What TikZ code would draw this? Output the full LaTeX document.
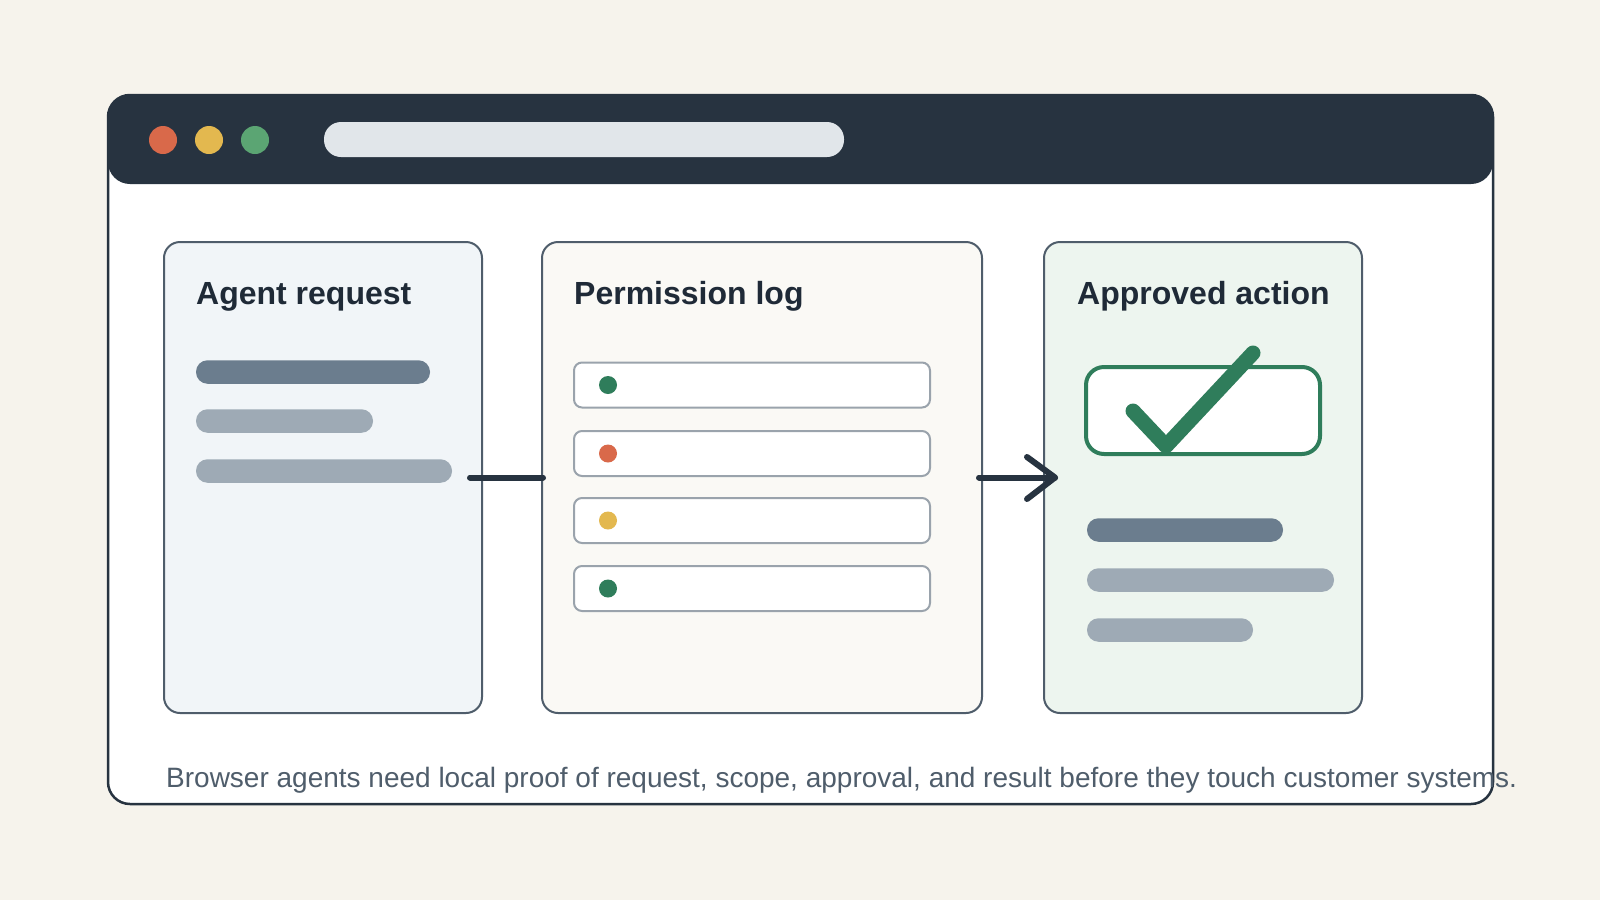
\documentclass[tikz,border=0pt]{standalone}
\usepackage{fontspec}
\setmainfont{Liberation Sans}
\usetikzlibrary{calc}
\definecolor{bg}{HTML}{F6F3EC}
\definecolor{ink}{HTML}{273340}
\definecolor{titleink}{HTML}{1F2A37}
\definecolor{panelline}{HTML}{4F5D6B}
\definecolor{capink}{HTML}{4F5D6B}
\definecolor{addr}{HTML}{E1E6EA}
\definecolor{dotred}{HTML}{D9694A}
\definecolor{dotyellow}{HTML}{E3B84F}
\definecolor{dotgreen}{HTML}{5BA573}
\definecolor{okgreen}{HTML}{2F7D5B}
\definecolor{barDark}{HTML}{6B7D8E}
\definecolor{barLight}{HTML}{9EAAB5}
\definecolor{rowline}{HTML}{9AA3AC}
\definecolor{fillA}{HTML}{F1F5F8}
\definecolor{fillB}{HTML}{FAF9F5}
\definecolor{fillC}{HTML}{EDF5EF}
\begin{document}
\begin{tikzpicture}[x=1pt,y=-1pt,
  panelbox/.style={draw=panelline, line width=2pt, rounded corners=16pt, inner sep=0pt, minimum height=471pt, minimum width=318pt},
  bardark/.style={fill=barDark, rounded corners=11.5pt, inner sep=0pt, minimum height=23.5pt},
  barlight/.style={fill=barLight, rounded corners=11.5pt, inner sep=0pt, minimum height=23.5pt},
  logrow/.style={draw=rowline, fill=white, line width=2pt, rounded corners=8pt, inner sep=0pt, minimum width=356pt, minimum height=45pt},
  logdot/.style={circle, inner sep=0pt, minimum size=18pt},
  titletext/.style={anchor=base west, inner sep=0pt, text=titleink, font=\fontsize{32}{38}\selectfont\bfseries},
  link/.style={draw=ink, line width=6pt, line cap=round, line join=round}
]
\useasboundingbox (0,0) rectangle (1600,900);
\fill[bg] (0,0) rectangle (1600,900);

% window
\node[fill=white, rounded corners=22pt, inner sep=0pt, minimum width=1385pt, minimum height=709pt] (win) at (800.5,449.5) {};
\node[fill=ink, rounded corners=22pt, inner sep=0pt, minimum width=1385pt, minimum height=89pt] (header) at (800.5,139.5) {};
\draw[ink, line width=2.5pt, rounded corners=22pt] (108,95) rectangle (1493,804);

% header dots and address bar
\node[logdot, fill=dotred, minimum size=28pt] (d1) at (163,140) {};
\node[logdot, fill=dotyellow, minimum size=28pt] (d2) at (209,140) {};
\node[logdot, fill=dotgreen, minimum size=28pt] (d3) at (255,140) {};
\node[fill=addr, rounded corners=17pt, inner sep=0pt, minimum width=520pt, minimum height=35pt] (addrbar) at (584,139.5) {};

% panels
\node[panelbox, fill=fillA] (p1) at (323,477.5) {};
\node[panelbox, fill=fillB, minimum width=440pt] (p2) at (762,477.5) {};
\node[panelbox, fill=fillC] (p3) at (1203,477.5) {};

% titles
\node[titletext] (t1) at (196,304) {Agent request};
\node[titletext] (t2) at (574,304) {Permission log};
\node[titletext] (t3) at (1077,304) {Approved action};

% panel 1 bars
\node[bardark, minimum width=234pt] (a1) at (313,372) {};
\node[barlight, minimum width=177pt] (a2) at (284.5,421) {};
\node[barlight, minimum width=256pt] (a3) at (324,471) {};

% log rows
\node[logrow] (r1) at (752,385) {};
\node[logrow] (r2) at (752,453.5) {};
\node[logrow] (r3) at (752,520.5) {};
\node[logrow] (r4) at (752,588.5) {};
\node[logdot, fill=okgreen] (g1) at (608,385) {};
\node[logdot, fill=dotred] (g2) at (608,453.5) {};
\node[logdot, fill=dotyellow] (g3) at (608,520.5) {};
\node[logdot, fill=okgreen] (g4) at (608,588.5) {};

% approved checkbox and check
\node[draw=okgreen, fill=white, line width=4pt, rounded corners=18pt, inner sep=0pt, minimum width=234pt, minimum height=87pt] (box) at (1203,410.5) {};
\draw[okgreen, line width=15pt, line cap=round, line join=round]
  ($(box.center)+(-70,0.5)$) -- ($(box.center)+(-37,35.5)$) -- ($(box.center)+(50,-57.5)$);

% panel 3 bars
\node[bardark, minimum width=196pt] (c1) at (1185,530) {};
\node[barlight, minimum width=247pt] (c2) at (1210.5,580) {};
\node[barlight, minimum width=166pt] (c3) at (1170,630) {};

% connectors
\coordinate (s1) at ($(p1.east)+(-13,0)$);
\coordinate (e1) at ($(p2.west)+(2,0)$);
\draw[link] (s1) -- (e1);
\coordinate (s2) at ($(p2.east)+(-4,0)$);
\coordinate (e2) at ($(p3.west)+(12,0)$);
\draw[link] (s2) -- (e2);
\draw[link] ($(e2)+(-28,-20.5)$) -- (e2) -- ($(e2)+(-28,21.5)$);

% caption
\node[anchor=base west, inner sep=0pt, text=capink, font=\fontsize{28}{34}\selectfont] (cap) at (166,787) {Browser agents need local proof of request, scope, approval, and result before they touch customer systems.};
\end{tikzpicture}
\end{document}
